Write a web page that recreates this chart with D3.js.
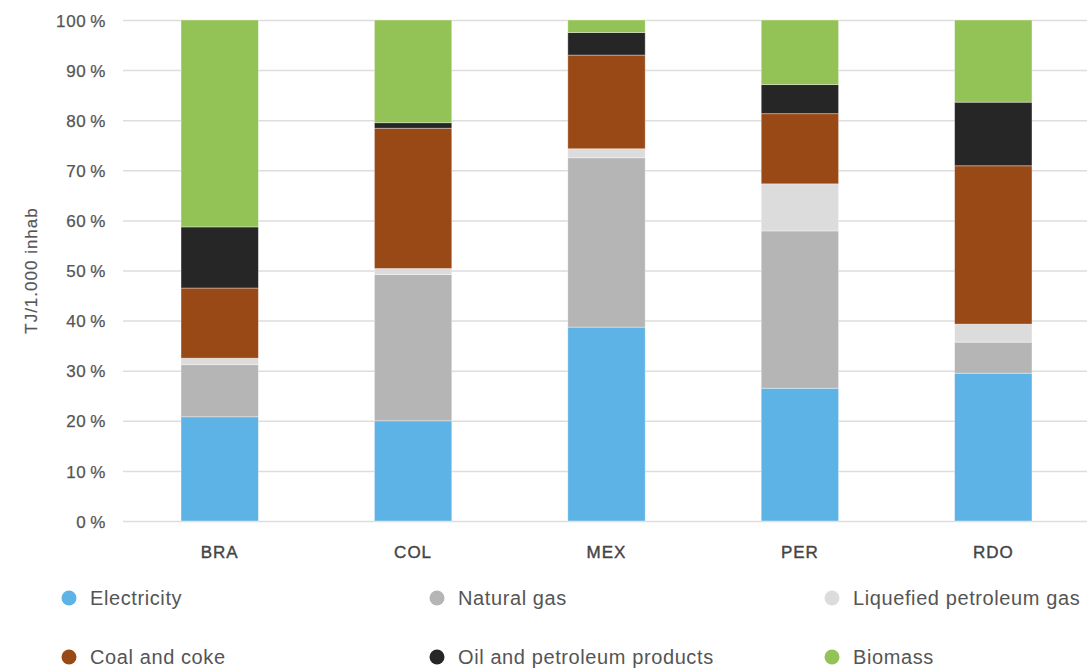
<!DOCTYPE html>
<html>
<head>
<meta charset="utf-8">
<script src="https://cdn.jsdelivr.net/npm/d3@7"></script>
<style>
  html, body { margin: 0; padding: 0; background: #fff; }
  svg text { font-family: "Liberation Sans", Arial, Helvetica, sans-serif; }
</style>
</head>
<body>
<svg id="chart" width="1087" height="671"></svg>
<script>
// Countries on the x axis
const countries = ["BRA", "COL", "MEX", "PER", "RDO"];

// Energy sources, stacked bottom to top
const sources = ["Electricity", "Natural gas", "Liquefied petroleum gas", "Coal and coke", "Oil and petroleum products", "Biomass"];
const sourceColors = ["#5db3e5", "#b5b5b5", "#dcdcdc", "#994916", "#262626", "#93c356"];

// Share of consumption per source (%), one value per country
const electricity = [20.8, 20.0, 38.7, 26.5, 29.5];
const naturalGas  = [10.4, 29.2, 33.8, 31.4,  6.2];
const lpg         = [ 1.3,  1.2,  1.8,  9.4,  3.6];
const coalCoke    = [14.0, 28.0, 18.7, 14.0, 31.6];
const oilProducts = [12.2,  1.1,  4.5,  5.8, 12.7];
const biomass     = [41.3, 20.5,  2.5, 12.9, 16.4];

// Y axis ticks
const yTicks = [0, 10, 20, 30, 40, 50, 60, 70, 80, 90, 100];
const yTitle = "TJ/1.000 inhab";

const seriesValues = [electricity, naturalGas, lpg, coalCoke, oilProducts, biomass];
const rows = countries.map((c, i) => {
  const r = { country: c };
  sources.forEach((s, k) => { r[s] = seriesValues[k][i]; });
  return r;
});

const svg = d3.select("#chart");
const plot = { left: 123, right: 1090, top: 20, bottom: 521 };

const x = d3.scaleBand().domain(countries).range([plot.left, plot.right]).paddingInner(0.6).paddingOuter(0.3);
const y = d3.scaleLinear().domain([0, 100]).range([plot.bottom, plot.top]);

// Gridlines and tick labels
const yAxis = d3.axisLeft(y).tickValues(yTicks).tickSize(-(1087 - plot.left)).tickFormat(d => d + "\u2009%");
const gy = svg.append("g").attr("transform", `translate(${plot.left},0)`).call(yAxis);
gy.select(".domain").remove();
gy.selectAll(".tick line").attr("stroke", "#dddddd").attr("stroke-width", 1.5);
gy.selectAll(".tick text")
  .attr("x", -17)
  .attr("dy", "0.36em")
  .attr("fill", "#555555")
  .attr("stroke", "#555555")
  .attr("stroke-width", 0.25)
  .style("font-size", "17px")
  .style("letter-spacing", "0.6px");

// Y axis title
svg.append("text")
  .attr("transform", `translate(37,${(plot.top + plot.bottom) / 2}) rotate(-90)`)
  .attr("text-anchor", "middle")
  .attr("fill", "#555555")
  .attr("stroke", "#555555")
  .attr("stroke-width", 0.2)
  .style("font-size", "17px")
  .style("letter-spacing", "1px")
  .text(yTitle);

// Stacked bars
const stack = d3.stack().keys(sources);
const layers = stack(rows);
svg.append("g").selectAll("g")
  .data(layers)
  .join("g")
  .attr("fill", (d, i) => sourceColors[i])
  .selectAll("rect")
  .data(d => d)
  .join("rect")
  .attr("x", d => x(d.data.country))
  .attr("width", x.bandwidth())
  .attr("y", d => y(d[1]))
  .attr("height", d => y(d[0]) - y(d[1]))
  .attr("stroke", "#ffffff")
  .attr("stroke-opacity", 0.45)
  .attr("stroke-width", 0.8);

// X axis labels
const xAxis = d3.axisBottom(x).tickSize(0).tickPadding(0);
const gx = svg.append("g").attr("transform", `translate(0,${plot.bottom})`).call(xAxis);
gx.select(".domain").remove();
gx.selectAll(".tick text")
  .attr("y", 31)
  .attr("dy", "0.36em")
  .attr("fill", "#444444")
  .attr("stroke", "#444444")
  .attr("stroke-width", 0.4)
  .style("font-size", "17px")
  .style("letter-spacing", "1px");

// Legend, two rows of three
const legendCols = [69, 437, 832];
const legendRows = [598, 657];
const legend = svg.append("g").selectAll("g")
  .data(sources)
  .join("g")
  .attr("transform", (d, i) => `translate(${legendCols[i % 3]},${legendRows[Math.floor(i / 3)]})`);
legend.append("circle").attr("r", 7.5).attr("fill", (d, i) => sourceColors[i]);
legend.append("text")
  .attr("x", 21)
  .attr("dy", "0.36em")
  .attr("fill", "#555555")
  .style("font-size", "20px")
  .style("letter-spacing", "0.6px")
  .text(d => d);
</script>
</body>
</html>
